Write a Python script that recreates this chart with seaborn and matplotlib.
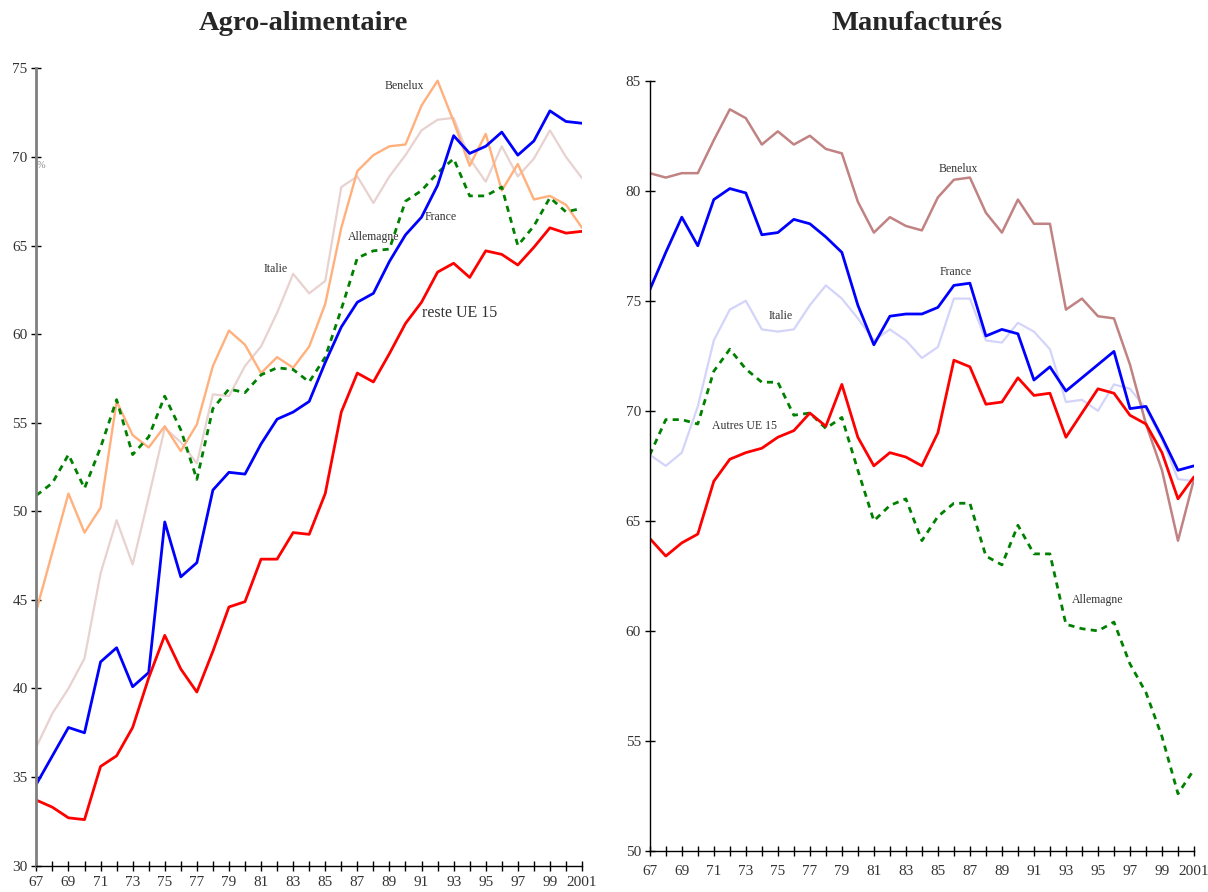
import numpy as np
import pandas as pd
import matplotlib
matplotlib.use("Agg")
import matplotlib.pyplot as plt
import seaborn as sns

# ------------------------------------------------------------
#  data (% share), 1967 -> 2001
# ------------------------------------------------------------
years = list(range(1967, 2002))

# Agro-alimentaire
agro_reste = [33.7, 33.3, 32.7, 32.6, 35.6, 36.2, 37.8, 40.6, 43.0, 41.1,
              39.8, 42.1, 44.6, 44.9, 47.3, 47.3, 48.8, 48.7, 51.0, 55.6,
              57.8, 57.3, 58.9, 60.6, 61.8, 63.5, 64.0, 63.2, 64.7, 64.5,
              63.9, 64.9, 66.0, 65.7, 65.8]
agro_france = [34.6, 36.2, 37.8, 37.5, 41.5, 42.3, 40.1, 40.9, 49.4, 46.3,
               47.1, 51.2, 52.2, 52.1, 53.8, 55.2, 55.6, 56.2, 58.4, 60.4,
               61.8, 62.3, 64.1, 65.6, 66.6, 68.4, 71.2, 70.2, 70.6, 71.4,
               70.1, 70.9, 72.6, 72.0, 71.9]
agro_allemagne = [50.9, 51.6, 53.2, 51.3, 53.6, 56.3, 53.2, 54.2, 56.5, 54.6,
                  51.8, 55.8, 56.9, 56.7, 57.7, 58.1, 58.0, 57.3, 58.7, 61.4,
                  64.3, 64.7, 64.8, 67.5, 68.1, 69.1, 69.9, 67.8, 67.8, 68.3,
                  65.0, 66.1, 67.7, 66.9, 67.1]
agro_benelux = [44.4, 47.7, 51.0, 48.8, 50.2, 56.2, 54.3, 53.6, 54.8, 53.4,
                54.9, 58.2, 60.2, 59.4, 57.8, 58.7, 58.1, 59.3, 61.7, 66.0,
                69.2, 70.1, 70.6, 70.7, 72.9, 74.3, 72.0, 69.5, 71.3, 68.1,
                69.6, 67.6, 67.8, 67.3, 66.0]
agro_italie = [36.7, 38.6, 40.0, 41.7, 46.5, 49.5, 47.0, 50.8, 54.7, 53.9,
               52.7, 56.6, 56.5, 58.2, 59.3, 61.2, 63.4, 62.3, 63.0, 68.3,
               68.9, 67.4, 68.9, 70.1, 71.5, 72.1, 72.2, 69.9, 68.6, 70.6,
               68.9, 69.9, 71.5, 70.0, 68.8]

# Manufactures
manu_benelux = [80.8, 80.6, 80.8, 80.8, 82.3, 83.7, 83.3, 82.1, 82.7, 82.1,
                82.5, 81.9, 81.7, 79.5, 78.1, 78.8, 78.4, 78.2, 79.7, 80.5,
                80.6, 79.0, 78.1, 79.6, 78.5, 78.5, 74.6, 75.1, 74.3, 74.2,
                72.1, 69.4, 67.3, 64.1, 66.9]
manu_france = [75.5, 77.2, 78.8, 77.5, 79.6, 80.1, 79.9, 78.0, 78.1, 78.7,
               78.5, 77.9, 77.2, 74.8, 73.0, 74.3, 74.4, 74.4, 74.7, 75.7,
               75.8, 73.4, 73.7, 73.5, 71.4, 72.0, 70.9, 71.5, 72.1, 72.7,
               70.1, 70.2, 68.8, 67.3, 67.5]
manu_italie = [68.0, 67.5, 68.1, 70.2, 73.2, 74.6, 75.0, 73.7, 73.6, 73.7,
               74.8, 75.7, 75.1, 74.2, 73.2, 73.7, 73.2, 72.4, 72.9, 75.1,
               75.1, 73.2, 73.1, 74.0, 73.6, 72.8, 70.4, 70.5, 70.0, 71.2,
               71.0, 70.1, 68.7, 66.9, 66.8]
manu_autres = [64.2, 63.4, 64.0, 64.4, 66.8, 67.8, 68.1, 68.3, 68.8, 69.1,
               69.9, 69.3, 71.2, 68.8, 67.5, 68.1, 67.9, 67.5, 69.0, 72.3,
               72.0, 70.3, 70.4, 71.5, 70.7, 70.8, 68.8, 69.9, 71.0, 70.8,
               69.8, 69.4, 68.1, 66.0, 67.0]
manu_allemagne = [68.0, 69.6, 69.6, 69.4, 71.8, 72.8, 71.9, 71.3, 71.3, 69.8,
                  69.9, 69.2, 69.7, 67.3, 65.0, 65.7, 66.0, 64.1, 65.2, 65.8,
                  65.8, 63.4, 63.0, 64.8, 63.5, 63.5, 60.3, 60.1, 60.0, 60.4,
                  58.5, 57.2, 55.2, 52.6, 53.7]

tick_years = list(range(1967, 2000, 2)) + [2001]
tick_labels = [f"{y % 100:02d}" for y in range(1967, 2000, 2)] + ["2001"]

# ------------------------------------------------------------
#  style
# ------------------------------------------------------------
sns.set_theme(style="white")
plt.rcParams["font.family"] = ["Liberation Serif", "DejaVu Serif"]

BLUE, RED, GREEN = "#0000ff", "#ff0000", "#008000"
ORANGE, PINK, ROSY, LAVENDER = "#ffb07c", "#e8d2d0", "#c08282", "#d4d4fa"
TXT = "#333333"

fig = plt.figure(figsize=(12.08, 8.92), dpi=100)
ax1 = fig.add_axes([0.0301, 0.0295, 0.4517, 0.8939])
ax2 = fig.add_axes([0.5379, 0.0460, 0.4505, 0.8635])


def draw(ax, series):
    for vals, color, lw, ls in series:
        df = pd.DataFrame({"year": years, "share": vals})
        sns.lineplot(data=df, x="year", y="share", ax=ax, color=color,
                     linewidth=lw, linestyle=ls, legend=False)


dash = (0, (2.2, 1.9))

draw(ax1, [
    (agro_italie, PINK, 1.6, "-"),
    (agro_benelux, ORANGE, 1.7, "-"),
    (agro_allemagne, GREEN, 2.0, dash),
    (agro_france, BLUE, 2.0, "-"),
    (agro_reste, RED, 2.0, "-"),
])
draw(ax2, [
    (manu_italie, LAVENDER, 1.6, "-"),
    (manu_benelux, ROSY, 1.8, "-"),
    (manu_allemagne, GREEN, 2.0, dash),
    (manu_france, BLUE, 2.0, "-"),
    (manu_autres, RED, 2.0, "-"),
])


def style_axes(ax, ylo, yhi, spine_color, spine_lw, xpad):
    ax.set_xlim(1967, 2001)
    ax.set_ylim(ylo, yhi)
    ax.set_xticks(years)
    ax.set_xticklabels([tick_labels[tick_years.index(y)] if y in tick_years else ""
                        for y in years])
    ax.set_yticks(np.arange(ylo, yhi + 1, 5))
    ax.set_xlabel("")
    ax.set_ylabel("")
    for s in ["top", "right"]:
        ax.spines[s].set_visible(False)
    ax.spines["left"].set_color(spine_color)
    ax.spines["left"].set_linewidth(spine_lw)
    ax.spines["bottom"].set_color("black")
    ax.spines["bottom"].set_linewidth(1.0)
    ax.tick_params(axis="both", which="major", direction="inout", length=6.5,
                   width=1.0, color="black", labelsize=11, labelcolor=TXT,
                   bottom=True, left=True, top=False, right=False)
    ax.tick_params(axis="x", pad=xpad)
    ax.tick_params(axis="y", pad=3)
    ax.grid(False)


style_axes(ax1, 30, 75, "#808080", 2.0, 4)
style_axes(ax2, 50, 85, "black", 1.0, 7)

fig.text(0.251, 0.974, "Agro-alimentaire", fontsize=20.5, fontweight="bold",
         ha="center", va="center")
fig.text(0.759, 0.974, "Manufacturés", fontsize=20.5, fontweight="bold",
         ha="center", va="center")

lab = dict(fontsize=8.5, color=TXT, ha="center", va="center")
ax1.text(1967.3, 69.5, "%", fontsize=7.5, color="#888888", ha="center", va="center")
ax1.text(1989.9, 74.0, "Benelux", **lab)
ax1.text(1992.2, 66.6, "France", **lab)
ax1.text(1988.0, 65.5, "Allemagne", **lab)
ax1.text(1981.9, 63.7, "Italie", **lab)
ax1.text(1993.4, 61.2, "reste UE 15", fontsize=11.5, color=TXT,
         ha="center", va="center")

ax2.text(1986.3, 81.0, "Benelux", **lab)
ax2.text(1986.1, 76.3, "France", **lab)
ax2.text(1975.2, 74.3, "Italie", **lab)
ax2.text(1972.9, 69.3, "Autres UE 15", **lab)
ax2.text(1995.0, 61.4, "Allemagne", **lab)

fig.savefig("out.png", dpi=100)
